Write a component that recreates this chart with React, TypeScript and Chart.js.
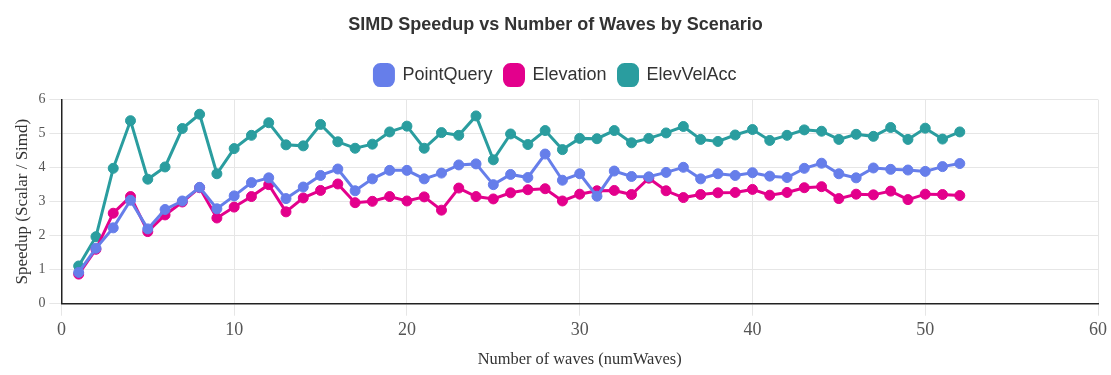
import React, { useEffect, useRef } from "react";
import { Chart, registerables } from "chart.js";

Chart.register(...registerables);

const numWaves: number[] = Array.from({ length: 52 }, (_, i) => i + 1);

const pointQuery: number[] = [
  0.92, 1.63, 2.23, 3.04, 2.2, 2.77, 3.02, 3.42, 2.79, 3.17,
  3.56, 3.7, 3.09, 3.43, 3.77, 3.96, 3.32, 3.67, 3.92, 3.92,
  3.67, 3.84, 4.08, 4.11, 3.5, 3.8, 3.71, 4.4, 3.63, 3.82,
  3.16, 3.9, 3.74, 3.73, 3.86, 4.01, 3.67, 3.82, 3.77, 3.85,
  3.75, 3.71, 3.98, 4.13, 3.82, 3.7, 3.99, 3.95, 3.93, 3.89,
  4.03, 4.12,
];

const elevation: number[] = [
  0.87, 1.6, 2.66, 3.15, 2.12, 2.61, 2.99, 3.41, 2.52, 2.84,
  3.15, 3.5, 2.7, 3.11, 3.33, 3.52, 2.97, 3.01, 3.15, 3.02,
  3.14, 2.75, 3.4, 3.15, 3.08, 3.26, 3.35, 3.38, 3.02, 3.22,
  3.32, 3.33, 3.21, 3.69, 3.32, 3.12, 3.21, 3.26, 3.27, 3.36,
  3.19, 3.27, 3.41, 3.44, 3.09, 3.22, 3.2, 3.31, 3.06, 3.22,
  3.21, 3.18,
];

const elevVelAcc: number[] = [
  1.11, 1.97, 3.98, 5.38, 3.66, 4.02, 5.15, 5.57, 3.82, 4.56,
  4.95, 5.32, 4.67, 4.64, 5.27, 4.76, 4.57, 4.69, 5.05, 5.22,
  4.57, 5.03, 4.95, 5.52, 4.23, 4.99, 4.68, 5.09, 4.53, 4.86,
  4.85, 5.09, 4.73, 4.86, 5.02, 5.21, 4.83, 4.77, 4.96, 5.12,
  4.8, 4.95, 5.11, 5.07, 4.83, 4.98, 4.92, 5.18, 4.83, 5.16,
  4.84, 5.05,
];

const seriesNames: string[] = ["PointQuery", "Elevation", "ElevVelAcc"];
const seriesColors: string[] = ["#667eea", "#e3008c", "#2a9d9f"];

const serif = "'Liberation Serif', 'Times New Roman', serif";
const sans = "'Liberation Sans', Arial, Helvetica, sans-serif";

const legendSpacing = {
  id: "legendSpacing",
  beforeInit(chart: any) {
    const legend = chart.legend;
    if (!legend) return;
    const origFit = legend.fit;
    legend.fit = function () {
      origFit.call(this);
      this.height += 4;
    };
  },
};

export default function App() {
  const ref = useRef<HTMLCanvasElement | null>(null);

  useEffect(() => {
    if (!ref.current) return;
    const allSeries = [pointQuery, elevation, elevVelAcc];
    const chart = new Chart(ref.current, {
      type: "line",
      plugins: [legendSpacing],
      data: {
        datasets: allSeries.map((vals, k) => ({
          label: seriesNames[k],
          data: vals.map((v, i) => ({ x: numWaves[i], y: v })),
          borderColor: seriesColors[k],
          backgroundColor: seriesColors[k],
          pointBackgroundColor: seriesColors[k],
          pointBorderColor: seriesColors[k],
          borderWidth: 3,
          pointRadius: 5,
          pointBorderWidth: 1,
          tension: 0,
        })),
      },
      options: {
        animation: false,
        responsive: true,
        maintainAspectRatio: false,
        layout: { padding: { bottom: 1 } },
        plugins: {
          title: {
            display: true,
            text: "SIMD Speedup vs Number of Waves by Scenario",
            color: "#333",
            font: { family: sans, size: 18, weight: "bold" },
            padding: { top: 14, bottom: 17 },
          },
          legend: {
            display: true,
            position: "top",
            labels: {
              color: "#333",
              font: { family: sans, size: 18 },
              boxWidth: 19,
              boxHeight: 21,
              useBorderRadius: true,
              borderRadius: 6,
              padding: 12,
            },
          },
          tooltip: { enabled: false },
        },
        scales: {
          x: {
            type: "linear",
            min: 0,
            max: 60,
            ticks: {
              stepSize: 10,
              color: "#555",
              font: { family: serif, size: 18 },
              padding: 4,
            },
            grid: { color: "#e6e6e6", tickLength: 12 },
            border: { color: "#222", width: 1.5 },
            title: {
              display: true,
              text: "Number of waves (numWaves)",
              color: "#333",
              font: { family: serif, size: 16.4 },
              padding: { top: 5, bottom: 4 },
            },
          },
          y: {
            min: 0,
            max: 6,
            ticks: {
              stepSize: 1,
              color: "#555",
              font: { family: serif, size: 14 },
              padding: 4,
            },
            grid: { color: "#e6e6e6", tickLength: 12 },
            border: { color: "#222", width: 1.5 },
            title: {
              display: true,
              text: "Speedup (Scalar / Simd)",
              color: "#333",
              font: { family: serif, size: 17 },
              padding: { top: 12, bottom: 2 },
            },
          },
        },
      },
    });
    return () => chart.destroy();
  }, []);

  return (
    <div
      style={{
        position: "fixed",
        left: 0,
        top: 0,
        width: "1111px",
        height: "375px",
        background: "#fff",
      }}
    >
      <canvas ref={ref} />
    </div>
  );
}
